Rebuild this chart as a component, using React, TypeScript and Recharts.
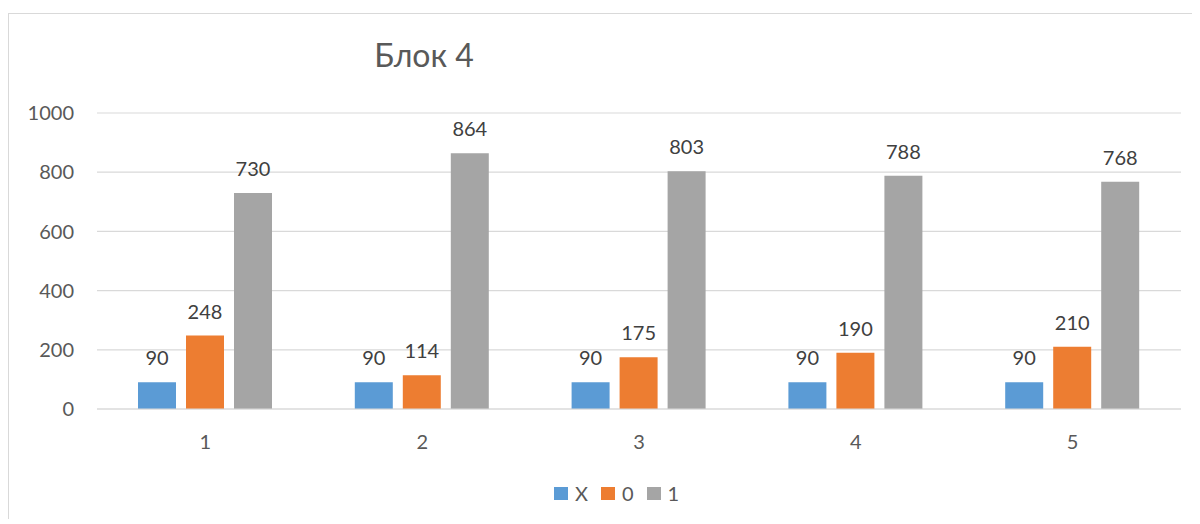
import { Bar, BarChart, CartesianGrid, LabelList, Legend, XAxis, YAxis } from 'recharts';

const categories = ['1', '2', '3', '4', '5'];
const xValues = [90, 90, 90, 90, 90];
const zeroValues = [248, 114, 175, 190, 210];
const oneValues = [730, 864, 803, 788, 768];
const yTicks = [0, 200, 400, 600, 800, 1000];

const SERIES = [
  { key: 'x', name: 'X', color: '#5B9BD5' },
  { key: 'zero', name: '0', color: '#ED7D31' },
  { key: 'one', name: '1', color: '#A5A5A5' },
];

const data = categories.map((c, i) => ({
  name: c,
  x: xValues[i],
  zero: zeroValues[i],
  one: oneValues[i],
}));

const FONT = "Lato, 'Open Sans', 'Noto Sans', sans-serif";

const LegendBox = () => (
  <div style={{ display: 'flex', alignItems: 'center', height: 26, fontFamily: FONT, fontSize: 20, color: '#595959' }}>
    {SERIES.map((s) => (
      <div key={s.key} style={{ display: 'flex', alignItems: 'center', marginRight: 13 }}>
        <div style={{ width: 14, height: 13, backgroundColor: s.color, marginRight: 7 }} />
        <span>{s.name}</span>
      </div>
    ))}
  </div>
);

export default function App() {
  return (
    <div
      style={{
        position: 'relative',
        top: 5,
        width: 1192,
        height: 511,
        borderLeft: '1px solid #D9D9D9',
        borderTop: '1px solid #D9D9D9',
        boxSizing: 'border-box',
        fontFamily: FONT,
        background: '#fff',
      }}
    >
      <div
        style={{
          position: 'absolute',
          left: 215,
          width: 400,
          top: 25,
          textAlign: 'center',
          fontSize: 32,
          lineHeight: '32px',
          color: '#595959',
        }}
      >
        Блок 4
      </div>
      <BarChart
        width={1191}
        height={510}
        data={data}
        margin={{ top: 99, right: 19, left: 0, bottom: 75 }}
        barSize={38}
        barGap={10}
      >
        <CartesianGrid vertical={false} stroke="#D9D9D9" strokeWidth={1.2} />
        <XAxis
          dataKey="name"
          height={40}
          tickLine={false}
          tickSize={0}
          tickMargin={26}
          axisLine={{ stroke: '#D9D9D9', strokeWidth: 1.2 }}
          tick={{ fill: '#595959', fontSize: 20, fontFamily: FONT }}
        />
        <YAxis
          width={88}
          domain={[0, 1000]}
          ticks={yTicks}
          axisLine={false}
          tickLine={false}
          tickSize={0}
          tickMargin={23}
          tick={{ fill: '#595959', fontSize: 20, fontFamily: FONT }}
        />
        <Legend
          layout="horizontal"
          verticalAlign="middle"
          align="center"
          content={<LegendBox />}
          wrapperStyle={{ position: 'absolute', top: 466, left: 545, width: 200 }}
        />
        {SERIES.map((s) => (
          <Bar key={s.key} dataKey={s.key} name={s.name} fill={s.color} isAnimationActive={false}>
            <LabelList
              dataKey={s.key}
              position="top"
              offset={17}
              fill="#404040"
              fontSize={20}
              fontFamily={FONT}
            />
          </Bar>
        ))}
      </BarChart>
    </div>
  );
}
